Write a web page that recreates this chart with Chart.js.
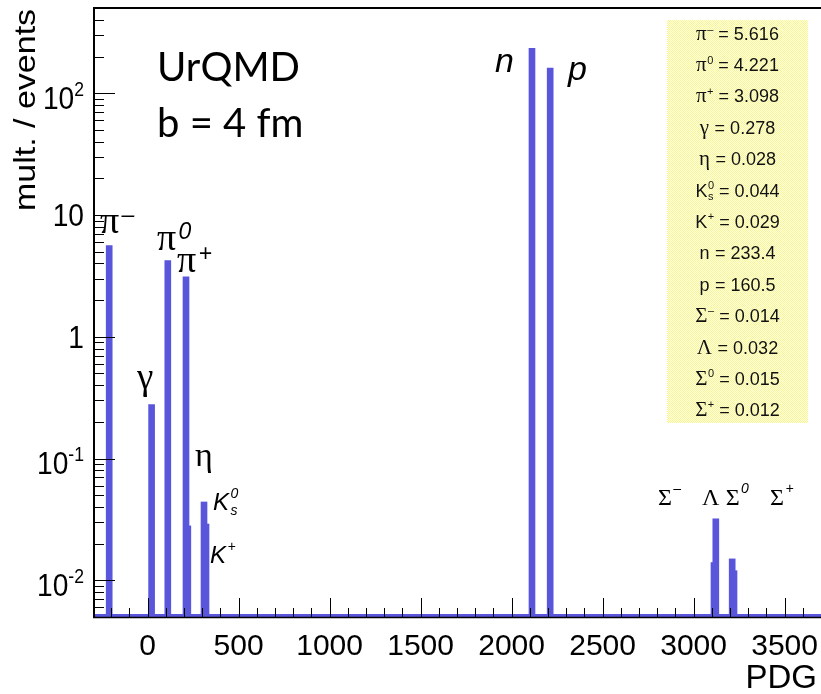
<!DOCTYPE html>
<html>
<head>
<meta charset="utf-8">
<script src="https://cdn.jsdelivr.net/npm/chart.js@4.4.1/dist/chart.umd.min.js"></script>
<style>
  html, body { margin: 0; padding: 0; background: #fff; }
</style>
</head>
<body>
<canvas id="pdgChart" width="821" height="694"></canvas>
<script>
// UrQMD, b = 4 fm : multiplicity per event for each particle species (PDG code)
const species = ['π^-', 'π^0', 'π^+', 'γ', 'η', 'K^0_s', 'K^+', 'n', 'p', 'Σ^-', 'Λ', 'Σ^0', 'Σ^+'];
const pdgCodes = [-211, 111, 211, 22, 221, 310, 321, 2112, 2212, 3112, 3122, 3212, 3222];
const multiplicity = [5.616, 4.221, 3.098, 0.278, 0.028, 0.044, 0.029, 233.4, 160.5, 0.014, 0.032, 0.015, 0.012];

const xTicks = [0, 500, 1000, 1500, 2000, 2500, 3000, 3500];
const yDecades = [-2, -1, 0, 1, 2];
const xRange = [-300, 3700];
const yRange = [0.005, 510];

const barColor = '#5a56dc';
const SANS = '"Liberation Sans", Arial, sans-serif';
const SERIF = '"Liberation Serif", "Times New Roman", serif';

// labels next to the bars, placed in data units (x = PDG, y = mult.)
const plotLabels = [
  { i: 0, x: -262, y: 7.1, size: 38 },
  { i: 1, x: 52, y: 5.16, size: 38 },
  { i: 2, x: 162, y: 3.4, size: 38 },
  { i: 3, x: -58, y: 0.372, size: 37 },
  { i: 4, x: 260, y: 0.0873, size: 34 },
  { i: 5, x: 359, y: 0.0377, size: 24 },
  { i: 6, x: 343, y: 0.01377, size: 24 },
  { i: 7, x: 1909, y: 149.8, size: 34 },
  { i: 8, x: 2310, y: 127.3, size: 34 },
  { i: 9, x: 2804, y: 0.0414, size: 24 },
  { i: 10, x: 3046, y: 0.0414, size: 24 },
  { i: 11, x: 3176, y: 0.0414, size: 24 },
  { i: 12, x: 3420, y: 0.0414, size: 24 }
];

function splitName(name) {
  const m = name.match(/^([^\^_]+)(?:\^([^_]+))?(?:_(.+))?$/);
  return { base: m[1], sup: m[2] || '', sub: m[3] || '' };
}
const isGreek = s => /[\u0370-\u03ff]/.test(s);
const isUpper = s => s === s.toUpperCase() && s !== s.toLowerCase();
const supText = s => s === '-' ? '\u2013' : s;

// draws base + stacked sup/sub
function drawName(ctx, name, x, y, opt) {
  const p = splitName(name);
  ctx.font = opt.baseFont(p.base);
  ctx.fillText(p.base, x, y);
  const w = ctx.measureText(p.base).width + opt.gap;
  ctx.font = opt.supFont;
  if (p.sup) {
    const sdy = isUpper(p.base) ? opt.supUp : opt.supLow;
    ctx.fillText(supText(p.sup), x + w, y + sdy);
  }
  if (p.sub) ctx.fillText(p.sub, x + w, y + opt.subDy);
}
function nameWidth(ctx, name, opt) {
  const p = splitName(name);
  ctx.font = opt.baseFont(p.base);
  const w = ctx.measureText(p.base).width + opt.gap;
  ctx.font = opt.supFont;
  let extra = 0;
  if (p.sup) extra = Math.max(extra, ctx.measureText(supText(p.sup)).width);
  if (p.sub) extra = Math.max(extra, ctx.measureText(p.sub).width);
  return w + extra;
}

function statText(v) {
  return v >= 1 ? v.toPrecision(4) : v.toFixed(3);
}

function makeDots(ctx) {
  const c = document.createElement('canvas');
  c.width = 2; c.height = 2;
  const g = c.getContext('2d');
  g.fillStyle = '#ffffff'; g.fillRect(0, 0, 2, 2);
  g.fillStyle = '#fafa78'; g.fillRect(0, 0, 1, 1); g.fillRect(1, 1, 1, 1);
  return ctx.createPattern(c, 'repeat');
}

const rootStyle = {
  id: 'rootStyle',
  afterDatasetsDraw(chart) {
    const { ctx, chartArea: a, scales: { x, y } } = chart;
    ctx.save();

    // empty bins drawn along the bottom, like the histogram outline
    ctx.fillStyle = barColor;
    ctx.fillRect(a.left, a.bottom - 3, a.right - a.left, 3);

    // frame
    ctx.strokeStyle = '#000';
    ctx.lineWidth = 2;
    ctx.beginPath();
    ctx.moveTo(a.left + 1, a.bottom);
    ctx.lineTo(a.left + 1, a.top + 1);
    ctx.lineTo(a.right + 2, a.top + 1);
    ctx.stroke();
    ctx.lineWidth = 1.5;
    ctx.beginPath();
    ctx.moveTo(a.left, a.bottom + 0.5);
    ctx.lineTo(a.right, a.bottom + 0.5);
    ctx.stroke();

    // x ticks, inside
    ctx.lineWidth = 1;
    ctx.beginPath();
    for (let v = xRange[0]; v <= xRange[1]; v += 100) {
      const px = Math.round(x.getPixelForValue(v)) + 0.5;
      const len = v % 500 === 0 ? 19 : 9;
      ctx.moveTo(px, a.bottom);
      ctx.lineTo(px, a.bottom - len);
    }
    // y ticks, inside
    for (let d = -3; d <= 2; d++) {
      for (let m = 1; m <= 9; m++) {
        const v = m * Math.pow(10, d);
        if (v < yRange[0] * 0.999 || v > yRange[1]) continue;
        const py = Math.round(y.getPixelForValue(v)) + 0.5;
        const len = m === 1 ? 22 : 11;
        ctx.moveTo(a.left, py);
        ctx.lineTo(a.left + len, py);
      }
    }
    ctx.stroke();

    // y labels 10^n
    ctx.fillStyle = '#000';
    ctx.textBaseline = 'alphabetic';
    yDecades.forEach(d => {
      const py = y.getPixelForValue(Math.pow(10, d));
      const main = d === 0 ? '1' : '10';
      const sup = (d === 0 || d === 1) ? '' : String(d);
      ctx.save();
      ctx.translate(84, 0);
      ctx.scale(0.88, 1);
      ctx.font = '20px ' + SANS;
      const sw = sup ? ctx.measureText(sup).width : 0;
      ctx.font = '32px ' + SANS;
      const mw = ctx.measureText(main).width;
      const base = py + 11.5 + (sup ? 4 : 0);
      ctx.fillText(main, -sw - mw, base);
      if (sup) {
        ctx.font = '20px ' + SANS;
        ctx.fillText(sup, -sw, base - 13);
      }
      ctx.restore();
    });

    // y title
    ctx.save();
    ctx.translate(35, 110);
    ctx.scale(0.85, 1);
    ctx.rotate(-Math.PI / 2);
    ctx.textAlign = 'center';
    ctx.font = '34px ' + SANS;
    ctx.fillText('mult. / events', 0, 0);
    ctx.restore();

    // x title
    ctx.textAlign = 'right';
    ctx.font = '33px ' + SANS;
    ctx.fillText('PDG', 817, 688);
    ctx.textAlign = 'left';

    // UrQMD / b = 4 fm
    ctx.font = '40px Lato, "Open Sans", sans-serif';
    ctx.fillText('UrQMD', 157, 81);
    ctx.fillText('b = 4 fm', 157, 137);

    // labels at the bars
    plotLabels.forEach(l => {
      const s = l.size;
      drawName(ctx, species[l.i], x.getPixelForValue(l.x), y.getPixelForValue(l.y), {
        baseFont: b => isGreek(b) ? `${s}px ${SERIF}` : `italic ${s}px ${SANS}`,
        supFont: `italic ${Math.round(s * 0.6)}px ${SANS}`,
        gap: s * 0.06,
        supUp: -s * 0.5,
        supLow: -s * 0.3,
        subDy: s * 0.2
      });
    });

    // stats box
    const bx = 667, by = 20, bw = 141, bh = 403;
    ctx.fillStyle = makeDots(ctx);
    ctx.fillRect(bx, by, bw, bh);
    ctx.fillStyle = '#111';
    const statOpt = {
      baseFont: b => isGreek(b) ? `21px ${SERIF}` : `18px ${SANS}`,
      supFont: `11px ${SANS}`,
      gap: 0.5,
      supUp: -8,
      supLow: -7,
      subDy: 3
    };
    species.forEach((name, i) => {
      const cy = 33 + i * 31.4 + 6.5;
      const tail = ' = ' + statText(multiplicity[i]);
      const nw = nameWidth(ctx, name, statOpt);
      ctx.font = `18px ${SANS}`;
      const tw = ctx.measureText(tail).width;
      const x0 = bx + bw / 2 - (nw + tw) / 2;
      drawName(ctx, name, x0, cy, statOpt);
      ctx.font = `18px ${SANS}`;
      ctx.fillText(tail, x0 + nw, cy);
    });

    ctx.restore();
  }
};

new Chart(document.getElementById('pdgChart'), {
  type: 'bar',
  data: {
    datasets: [{
      data: pdgCodes.map((c, i) => ({ x: c, y: multiplicity[i] })),
      backgroundColor: barColor,
      borderWidth: 0,
      barThickness: 6,
      grouped: false
    }]
  },
  options: {
    responsive: false,
    animation: false,
    events: [],
    layout: { padding: { top: 7, right: 0, left: 0, bottom: 0 } },
    plugins: { legend: { display: false }, tooltip: { enabled: false } },
    scales: {
      x: {
        type: 'linear',
        offset: false,
        min: xRange[0],
        max: xRange[1],
        grid: { display: false, drawTicks: false, offset: false },
        border: { display: false },
        ticks: {
          color: '#000', font: { family: SANS, size: 30 }, padding: 12, maxRotation: 0, autoSkip: false,
          callback: v => String(v)
        },
        afterBuildTicks: s => { s.ticks = xTicks.map(v => ({ value: v })); },
        afterFit: s => { s.height = 77; s.paddingLeft = 0; s.paddingRight = 0; }
      },
      y: {
        type: 'logarithmic',
        min: yRange[0],
        max: yRange[1],
        grid: { display: false, drawTicks: false },
        border: { display: false },
        ticks: { display: false },
        afterFit: s => { s.width = 93; s.paddingTop = 0; s.paddingBottom = 0; }
      }
    }
  },
  plugins: [rootStyle]
});
</script>
</body>
</html>
